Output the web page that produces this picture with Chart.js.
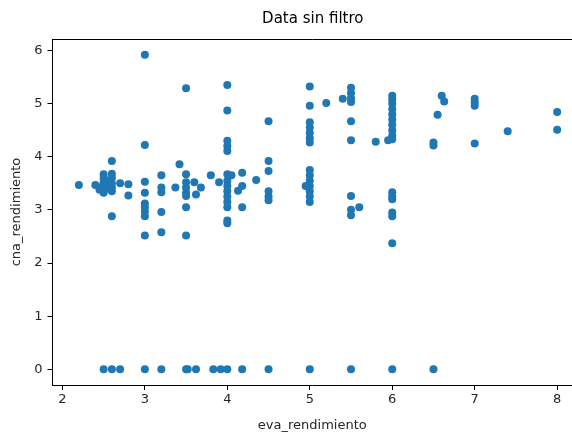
<!DOCTYPE html>
<html>
<head>
<meta charset="utf-8">
<script src="https://cdn.jsdelivr.net/npm/chart.js@4.4.0/dist/chart.umd.min.js"></script>
<style>
  html, body { margin: 0; padding: 0; background: #fff; overflow: hidden; }
  canvas { display: block; }
</style>
</head>
<body>
<canvas id="scatterChart" width="572" height="433"></canvas>
<script>
// datos (eva_rendimiento vs cna_rendimiento)
const evaRendimiento = [
    2.2, 2.4, 2.45, 2.45,
    2.5, 2.5, 2.5, 2.5, 2.5, 2.5, 2.5,
    2.55, 2.55,
    2.6, 2.6, 2.6, 2.6, 2.6, 2.6, 2.6, 2.6,
    2.7, 2.7, 2.8, 2.8,
    3.0, 3.0, 3.0, 3.0, 3.0, 3.0, 3.0, 3.0, 3.0, 3.0,
    3.2, 3.2, 3.2, 3.2, 3.2, 3.2,
    3.37, 3.42,
    3.5, 3.5, 3.5, 3.5, 3.5, 3.5, 3.5, 3.5, 3.5, 3.52,
    3.6, 3.62, 3.62, 3.68, 3.8, 3.83, 3.9, 3.92,
    4.0, 4.0, 4.0, 4.0, 4.0, 4.0, 4.0, 4.0, 4.0, 4.0, 4.0, 4.0, 4.0, 4.0, 4.0,
    4.05, 4.13, 4.18, 4.18, 4.18, 4.18, 4.35,
    4.5, 4.5, 4.5, 4.5, 4.5, 4.5, 4.5,
    4.95,
    5.0, 5.0, 5.0, 5.0, 5.0, 5.0, 5.0, 5.0, 5.0, 5.0, 5.0, 5.0, 5.0, 5.0, 5.0,
    5.2, 5.4,
    5.5, 5.5, 5.5, 5.5, 5.5, 5.5, 5.5, 5.5, 5.5, 5.5,
    5.6, 5.8, 5.95,
    6.0, 6.0, 6.0, 6.0, 6.0, 6.0, 6.0, 6.0, 6.0, 6.0, 6.0, 6.0, 6.0, 6.0, 6.0, 6.0, 6.0,
    6.5, 6.5, 6.5, 6.55, 6.6, 6.63,
    7.0, 7.0, 7.0, 7.0, 7.4,
    8.0, 8.0
];
const cnaRendimiento = [
    3.47, 3.47, 3.42, 3.38,
    3.67, 3.6, 3.52, 3.45, 3.38, 3.32, 0,
    3.55, 3.4,
    3.92, 3.68, 3.6, 3.5, 3.42, 3.35, 2.88, 0,
    3.5, 0, 3.48, 3.27,
    5.92, 4.22, 3.53, 3.32, 3.12, 3.05, 2.97, 2.88, 2.52, 0,
    3.65, 3.42, 3.33, 2.96, 2.58, 0,
    3.42, 3.86,
    5.29, 3.67, 3.52, 3.42, 3.32, 3.26, 3.05, 2.52, 0, 0,
    3.52, 3.29, 0, 3.42, 3.65, 0, 3.52, 0,
    5.35, 4.87, 4.3, 4.2, 4.11, 3.67, 3.55, 3.45, 3.35, 3.25, 3.15, 3.05, 2.8, 2.75, 0,
    3.65, 3.36, 3.7, 3.45, 3.05, 0, 3.56,
    4.67, 3.92, 3.73, 3.35, 3.25, 3.18, 0,
    3.45,
    5.32, 4.96, 4.65, 4.55, 4.45, 4.35, 4.27, 3.75, 3.65, 3.55, 3.45, 3.35, 3.25, 3.15, 0,
    5.01, 5.09,
    5.3, 5.2, 5.1, 5.03, 4.67, 4.31, 3.26, 3.0, 2.9, 0,
    3.05, 4.28, 4.31,
    5.15, 5.08, 5.0, 4.9, 4.8, 4.7, 4.6, 4.5, 4.4, 4.33, 3.33, 3.25, 3.2, 2.95, 2.88, 2.37, 0,
    4.27, 4.21, 0, 4.79, 5.15, 5.04,
    5.09, 5.02, 4.96, 4.25, 4.48,
    4.84, 4.51
];
const xTicks = [2, 3, 4, 5, 6, 7, 8];
const yTicks = [0, 1, 2, 3, 4, 5, 6];

const FONT = 'DejaVu Sans';
const INK = '#262626';

// borde superior y titulo estilo matplotlib
const frameTitle = {
    id: 'frameTitle',
    afterDraw(chart) {
        const { ctx, chartArea, scales } = chart;
        ctx.save();
        ctx.strokeStyle = '#000';
        ctx.lineWidth = 1;
        ctx.beginPath();
        ctx.moveTo(chartArea.left, chartArea.top + 0.5);
        ctx.lineTo(chartArea.right, chartArea.top + 0.5);
        ctx.stroke();
        // centro del eje completo (la imagen original esta recortada a la derecha)
        const fullRight = scales.x.getPixelForValue(8.29);
        ctx.fillStyle = '#000';
        ctx.font = '15px "' + FONT + '"';
        ctx.textAlign = 'center';
        ctx.textBaseline = 'middle';
        ctx.fillText('Data sin filtro', (chartArea.left + fullRight) / 2 - 4, 19);
        ctx.restore();
    }
};

const points = evaRendimiento.map((x, i) => ({ x: x, y: cnaRendimiento[i] }));

new Chart(document.getElementById('scatterChart'), {
    type: 'scatter',
    data: {
        datasets: [{
            data: points,
            backgroundColor: '#1f77b4',
            borderWidth: 0,
            pointRadius: 4,
            pointHoverRadius: 4
        }]
    },
    options: {
        responsive: false,
        animation: false,
        layout: { autoPadding: false, padding: { top: 39, left: 0, right: 0, bottom: 0 } },
        plugins: { legend: { display: false }, tooltip: { enabled: false }, title: { display: false } },
        scales: {
            x: {
                type: 'linear',
                min: 1.88,
                max: 8.18,
                afterBuildTicks: s => { s.ticks = xTicks.map(v => ({ value: v })); },
                afterFit: s => { s.height = 48; s.paddingLeft = 0; s.paddingRight = 0; },
                grid: { drawOnChartArea: false, tickLength: 5, tickColor: '#000', tickWidth: 1 },
                border: { display: true, color: '#000', width: 1 },
                ticks: { color: INK, font: { family: FONT, size: 13 }, padding: 2, maxRotation: 0 },
                title: { display: true, text: 'eva_rendimiento', color: INK, font: { family: FONT, size: 13 }, padding: { top: 2, bottom: 0 } }
            },
            y: {
                type: 'linear',
                min: -0.296,
                max: 6.216,
                afterBuildTicks: s => { s.ticks = yTicks.map(v => ({ value: v })); },
                afterFit: s => { s.width = 52.5; s.paddingTop = 0; s.paddingBottom = 0; },
                grid: { drawOnChartArea: false, tickLength: 5, tickColor: '#000', tickWidth: 1 },
                border: { display: true, color: '#000', width: 1 },
                ticks: { color: INK, font: { family: FONT, size: 13 }, padding: 5 },
                title: { display: true, text: 'cna_rendimiento', color: INK, font: { family: FONT, size: 13 }, padding: { top: 9, bottom: 0 } }
            }
        }
    },
    plugins: [frameTitle]
});
</script>
</body>
</html>
